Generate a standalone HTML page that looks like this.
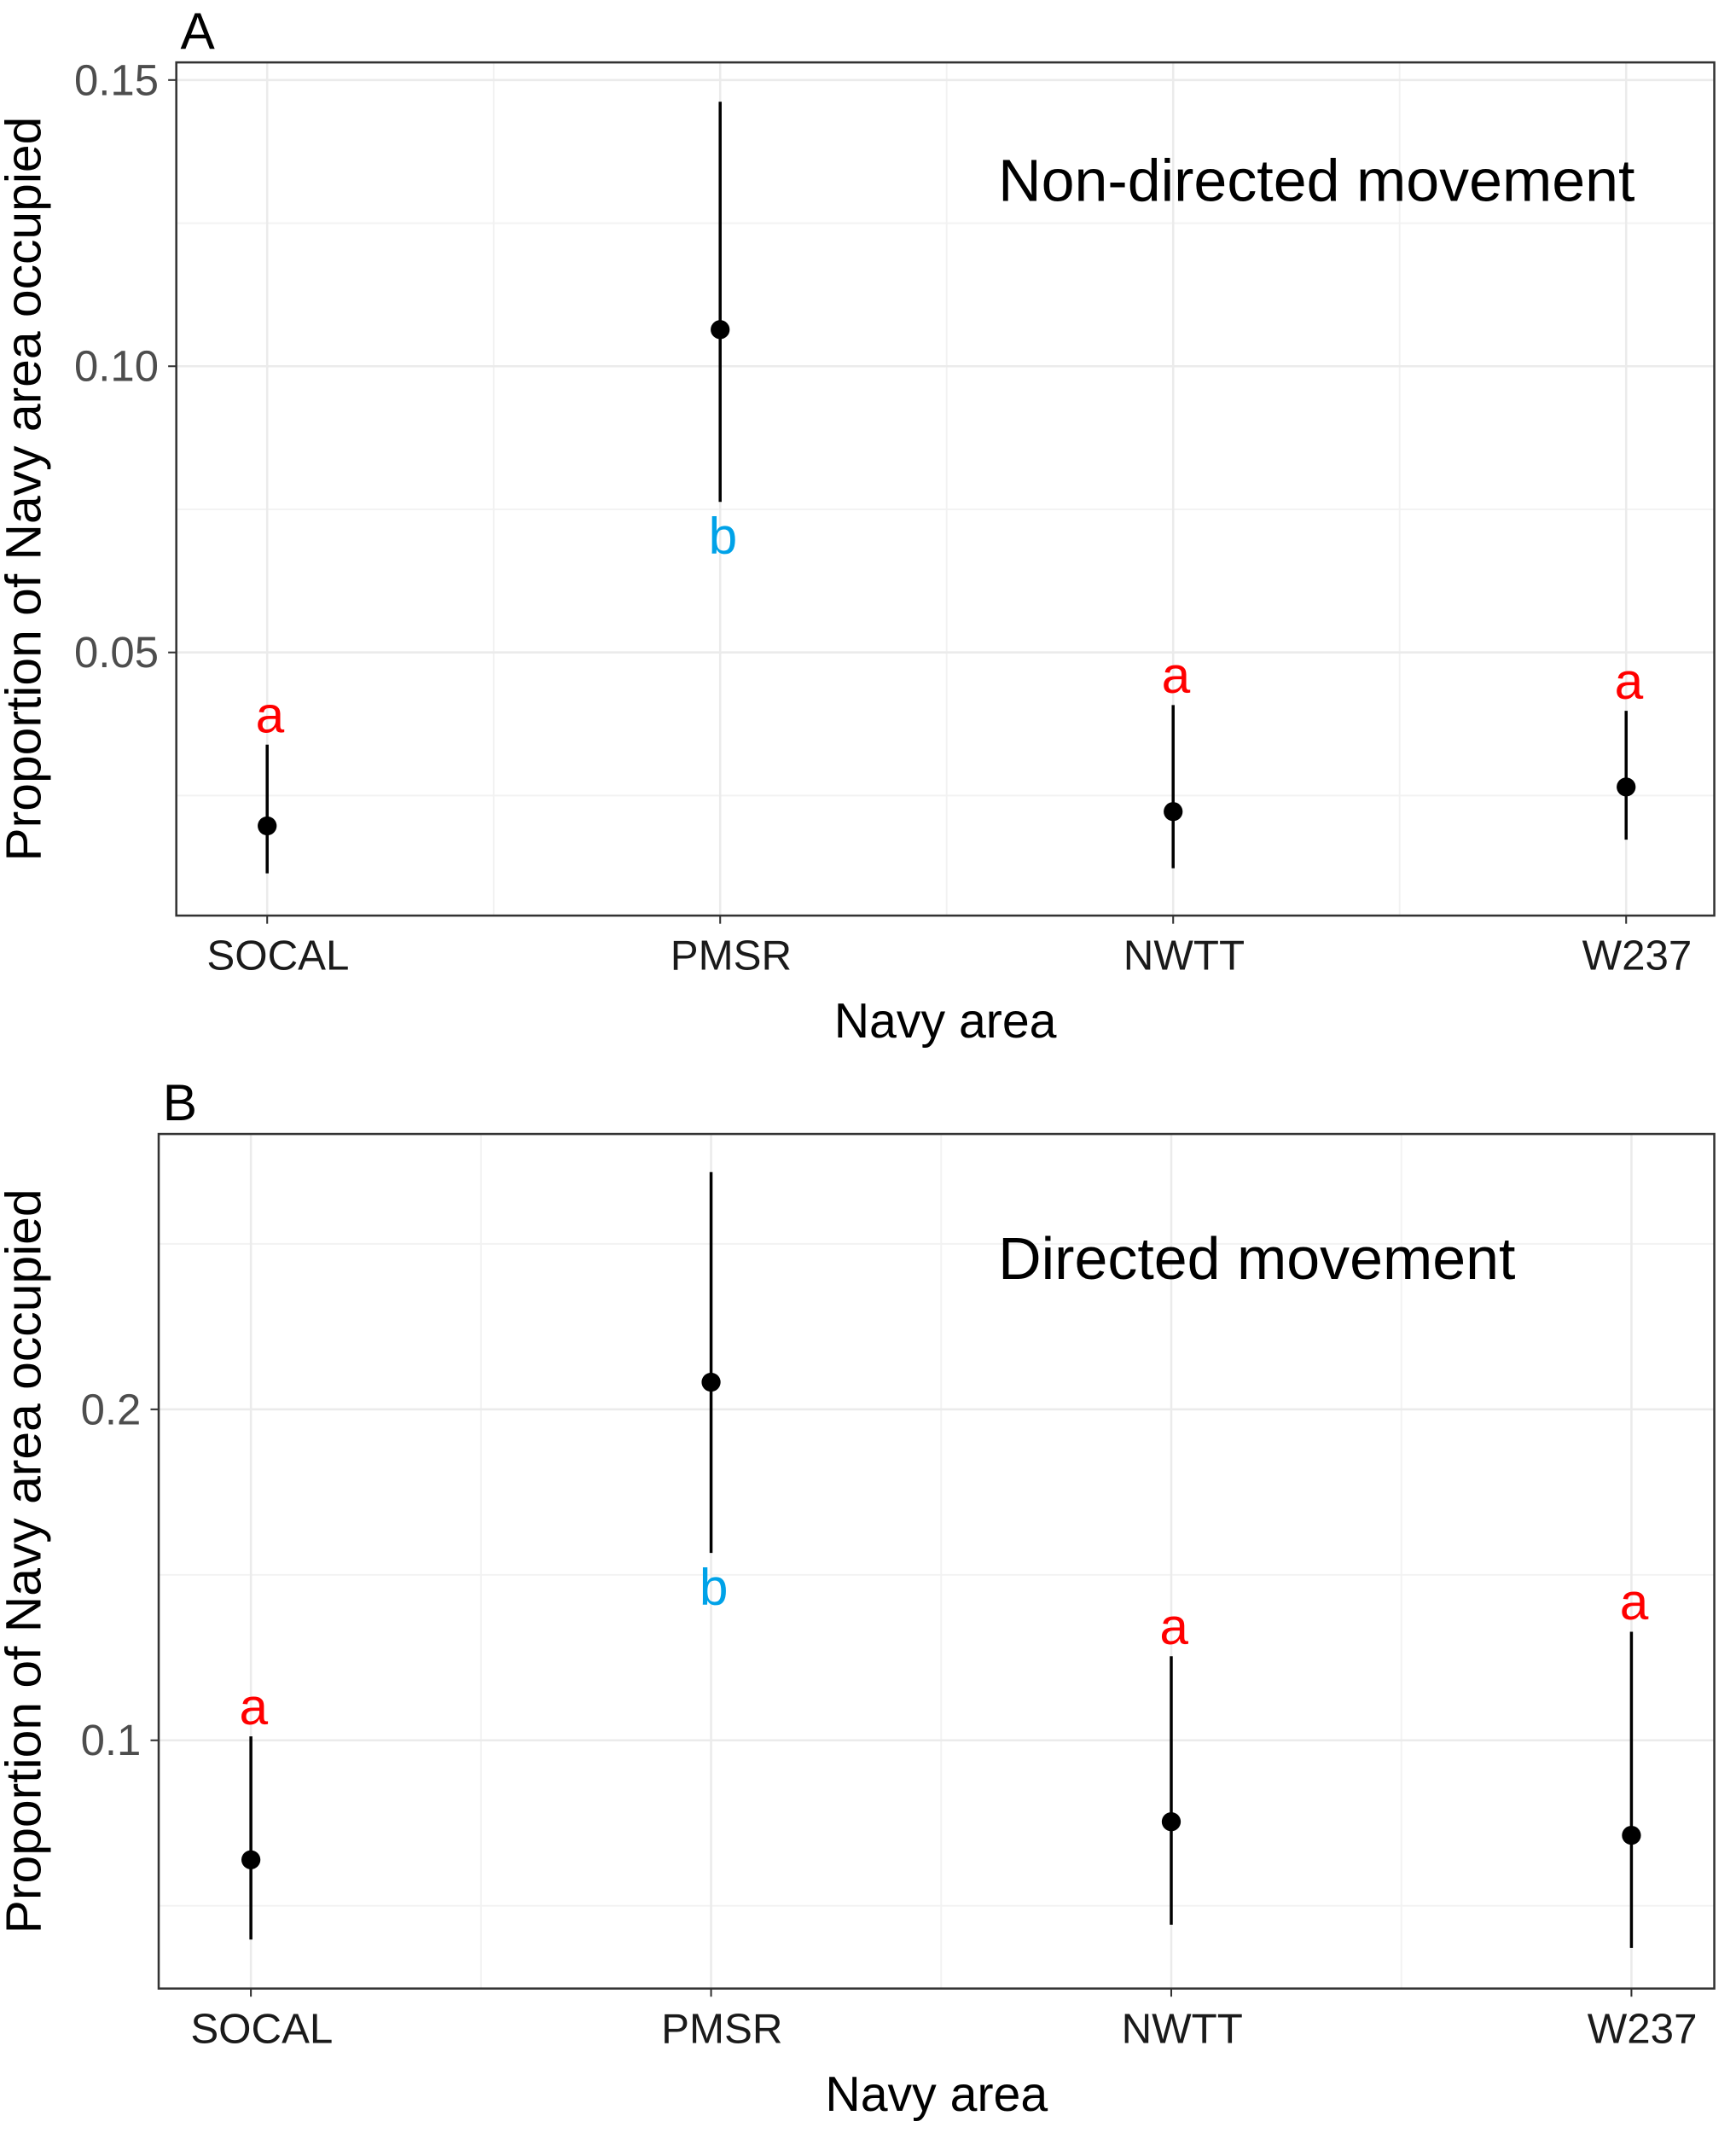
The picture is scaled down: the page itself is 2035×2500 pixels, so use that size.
<!DOCTYPE html>
<html><head><meta charset="utf-8"><style>
html,body{margin:0;padding:0;background:#fff}
svg{display:block}
text{font-family:"Liberation Sans",sans-serif}
</style></head><body>
<svg id="chart" width="2035" height="2500" viewBox="0 0 1280 1572.5" preserveAspectRatio="none" xmlns="http://www.w3.org/2000/svg"></svg>
<script>
const categories = ["SOCAL","PMSR","NWTT","W237"];
const aMean = [0.0197,0.1064,0.0222,0.0265];
const aLow = [0.0114,0.0763,0.0123,0.0173];
const aHigh = [0.0339,0.1462,0.0408,0.0398];
const aLetters = ["a","b","a","a"];
const aTicks = [0.05,0.10,0.15];
const aTickLabels = ["0.05","0.10","0.15"];
const bMean = [0.0639,0.2082,0.0754,0.0713];
const bLow = [0.0398,0.1566,0.0443,0.0373];
const bHigh = [0.1012,0.2717,0.1254,0.1328];
const bLetters = ["a","b","a","a"];
const bTicks = [0.1,0.2];
const bTickLabels = ["0.1","0.2"];

const svg = document.getElementById('chart');
const NS = "http://www.w3.org/2000/svg";
function el(tag, attrs, parent){ const e=document.createElementNS(NS,tag); for(const k in attrs) e.setAttribute(k,attrs[k]); (parent||svg).appendChild(e); return e; }

function panel(cfg){
  const g = el('g',{});
  
  
  const {x0,x1,y0,y1} = cfg;
  const yScale = v => cfg.refY + (cfg.refV - v) * cfg.pxPer;
  const xScale = i => cfg.xs[0] + i*(cfg.xs[1]-cfg.xs[0]);
  for(let i=0;i<cfg.ticks.length;i++){
    const mv = cfg.ticks[i] - cfg.step/2;
    const yy = yScale(mv);
    if(yy>y0&&yy<y1){ const l=el('line',{x1:x0,x2:x1,y1:yy,y2:yy,stroke:'#f2f2f2','stroke-width':1.2},g);   }
  }
  const top = cfg.ticks[cfg.ticks.length-1]+cfg.step/2;
  if(yScale(top)>y0){ const l=el('line',{x1:x0,x2:x1,y1:yScale(top),y2:yScale(top),stroke:'#f2f2f2','stroke-width':1.2},g);   }
  for(let i=0;i<categories.length-1;i++){
    const xx=(xScale(i)+xScale(i+1))/2;
    const l=el('line',{x1:xx,x2:xx,y1:y0,y2:y1,stroke:'#f2f2f2','stroke-width':1.2},g);
     
  }
  cfg.ticks.forEach((t,i)=>{
    const yy=yScale(t);
    const l=el('line',{x1:x0,x2:x1,y1:yy,y2:yy,stroke:'#ebebeb','stroke-width':1.6},g);
     
    el('line',{x1:x0-6,x2:x0,y1:yy,y2:yy,stroke:'#333','stroke-width':1.3},g);
    const tx=el('text',{x:x0-13,y:yy+11,'text-anchor':'end','font-size':32,fill:'#4d4d4d'},g);
    tx.textContent=cfg.tickLabels[i];
     
  });
  categories.forEach((c,i)=>{
    const xx=xScale(i);
    const l=el('line',{x1:xx,x2:xx,y1:y0,y2:y1,stroke:'#ebebeb','stroke-width':1.6},g);
     
    el('line',{x1:xx,x2:xx,y1:y1,y2:y1+6,stroke:'#333','stroke-width':1.3},g);
    const tx=el('text',{x:xx+8,y:y1+40,'text-anchor':'middle','font-size':31,fill:'#1a1a1a'},g);
    tx.textContent=c;
     
  });
  const box=el('rect',{x:x0,y:y0,width:x1-x0,height:y1-y0,fill:'none',stroke:'#333','stroke-width':1.6},g);
   
  categories.forEach((c,i)=>{
    const xx=xScale(i);
    const e=el('line',{x1:xx,x2:xx,y1:yScale(cfg.low[i]),y2:yScale(cfg.high[i]),stroke:'#000','stroke-width':2.2},g);
     
    const p=el('circle',{cx:xx,cy:yScale(cfg.mean[i]),r:7,fill:'#000'},g);
     
    const isB = cfg.letters[i]==='b';
    const ly = isB ? yScale(cfg.low[i])+38 : yScale(cfg.high[i])-9;
    const lt=el('text',{x:xx+2,y:ly,'text-anchor':'middle','font-size':38,fill:isB?'#00a2e8':'#ff0000'},g);
    lt.textContent=cfg.letters[i];
     
  });
  const xt=el('text',{x:(x0+x1)/2,y:y1+90,'text-anchor':'middle','font-size':36,fill:'#000'},g);
  xt.textContent='Navy area';
   
  const yc=(y0+y1)/2;
  const yt=el('text',{x:0,y:0,transform:`translate(30,${yc}) rotate(-90)`,'text-anchor':'middle','font-size':37,fill:'#000'},g);
  yt.textContent='Proportion of Navy area occupied';
   
  const an=el('text',{x:736,y:cfg.annY,'font-size':44,fill:'#000'},g);
  an.textContent=cfg.annotation;
   
  const pl=el('text',{x:cfg.letterX,y:y0-10,'font-size':38,fill:'#000'},g);
  pl.textContent=cfg.panelLetter;
   
}
panel({name:'panel-a',x0:130,x1:1264,y0:46,y1:675,refY:59,refV:0.15,pxPer:4220,step:0.05,
  ticks:aTicks,tickLabels:aTickLabels,xs:[197,531],mean:aMean,low:aLow,high:aHigh,letters:aLetters,
  annotation:'Non-directed movement',annY:148,panelLetter:'A',letterX:133});
panel({name:'panel-b',x0:117,x1:1264,y0:836,y1:1466,refY:1283,refV:0.1,pxPer:2440,step:0.1,
  ticks:bTicks,tickLabels:bTickLabels,xs:[185,524.3],mean:bMean,low:bLow,high:bHigh,letters:bLetters,
  annotation:'Directed movement',annY:943,panelLetter:'B',letterX:120});
</script>
</body></html>
